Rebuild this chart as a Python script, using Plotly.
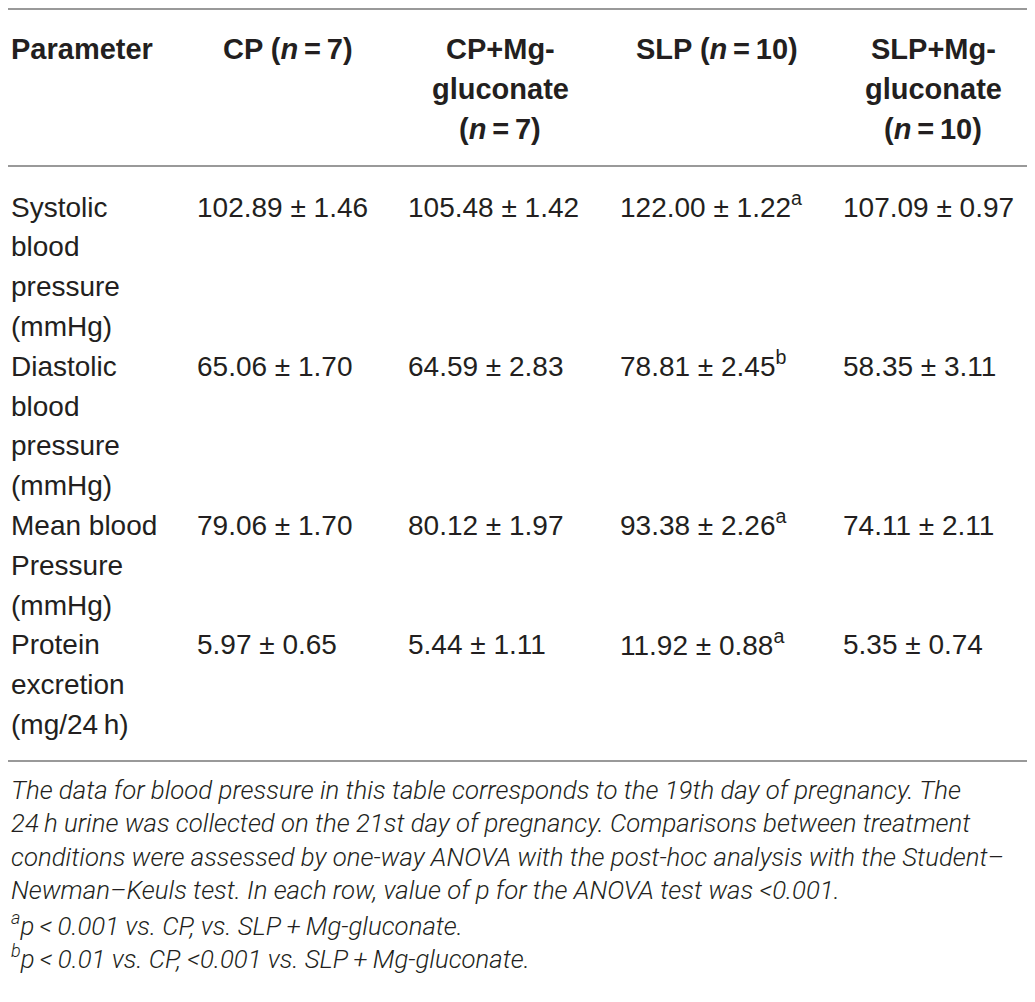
'''Table: blood pressure and protein excretion, CP / SLP with and without Mg-gluconate'''

import plotly.graph_objects as go

# %% data
params = [
    ["Systolic", "blood", "pressure", "(mmHg)"],
    ["Diastolic", "blood", "pressure", "(mmHg)"],
    ["Mean blood", "Pressure", "(mmHg)"],
    ["Protein", "excretion", "(mg/24\u2009h)"],
]
headers = [
    ["Parameter"],
    ["CP (<i>n</i>\u2009=\u20097)"],
    ["CP+Mg-", "gluconate", "(<i>n</i>\u2009=\u20097)"],
    ["SLP (<i>n</i>\u2009=\u200910)"],
    ["SLP+Mg-", "gluconate", "(<i>n</i>\u2009=\u200910)"],
]
cp_mean = [102.89, 65.06, 79.06, 5.97]
cp_sem = [1.46, 1.70, 1.70, 0.65]
cpmg_mean = [105.48, 64.59, 80.12, 5.44]
cpmg_sem = [1.42, 2.83, 1.97, 1.11]
slp_mean = [122.00, 78.81, 93.38, 11.92]
slp_sem = [1.22, 2.45, 2.26, 0.88]
slp_sup = ["a", "b", "a", "a"]
slpmg_mean = [107.09, 58.35, 74.11, 5.35]
slpmg_sem = [0.97, 3.11, 2.11, 0.74]

notes = [
    "The data for blood pressure in this table corresponds to the 19th day of pregnancy. The",
    "24\u2009h urine was collected on the 21st day of pregnancy. Comparisons between treatment",
    "conditions were assessed by one-way ANOVA with the post-hoc analysis with the Student\u2013",
    "Newman\u2013Keuls test. In each row, value of p for the ANOVA test was <0.001.",
    "<sup>a</sup>p\u2009<\u20090.001 vs. CP, vs. SLP\u2009+\u2009Mg-gluconate.",
    "<sup>b</sup>p\u2009<\u20090.01 vs. CP, <0.001 vs. SLP\u2009+\u2009Mg-gluconate.",
]

# %% layout (pixel units of the picture)
W, H = 1035, 1002
OFF = 8  # page body margin
TXT = "#231f20"
LINE = "#999999"
LEFT = OFF + 0.5
head_cx = [LEFT, 288, 500, 717, 933]
data_x = [195, 406, 618, 841]
head_y0, head_dy = 48.5, 40
row_y0, row_dy = 207, 39.8
note_y0, note_dy = 790, 33.4
rules_y = [OFF + 1, 166, 761]

fig = go.Figure()
ann = []

for i, lines in enumerate(headers):
    for k, t in enumerate(lines):
        ann.append(dict(
            x=head_cx[i], y=head_y0 + k * head_dy, text=f"<b>{t}</b>",
            xanchor="left" if i == 0 else "center", yanchor="middle",
            font=dict(size=29, color=TXT, family="Liberation Sans, Arial"),
        ))

cols = [
    (cp_mean, cp_sem, None),
    (cpmg_mean, cpmg_sem, None),
    (slp_mean, slp_sem, slp_sup),
    (slpmg_mean, slpmg_sem, None),
]
k0 = 0
for r, lines in enumerate(params):
    for k, t in enumerate(lines):
        ann.append(dict(
            x=LEFT, y=row_y0 + (k0 + k) * row_dy, text=t,
            xanchor="left", yanchor="middle",
            font=dict(size=28, color=TXT, family="Liberation Sans, Arial"),
        ))
    for c, (m, s, sup) in enumerate(cols):
        txt = f"{m[r]:.2f} \u00b1 {s[r]:.2f}"
        if sup:
            txt += f"<sup>{sup[r]}</sup>"
        ann.append(dict(
            x=data_x[c], y=row_y0 + k0 * row_dy, text=txt,
            xanchor="left", yanchor="middle", yshift=2 if sup else 0,
            font=dict(size=28, color=TXT, family="Liberation Sans, Arial"),
        ))
    k0 += len(lines)

for k, t in enumerate(notes):
    ann.append(dict(
        x=LEFT, y=note_y0 + k * note_dy, text=f"<i>{t}</i>",
        xanchor="left", yanchor="middle",
        font=dict(size=25.8, color=TXT, family="Roboto", weight=300),
    ))

for a in ann:
    a.update(xref="x", yref="y", showarrow=False)

shapes = [
    dict(type="line", xref="x", yref="y", x0=OFF, x1=W - OFF, y0=y, y1=y,
         line=dict(color=LINE, width=2))
    for y in rules_y
]

fig.update_layout(
    width=W - 2 * OFF, height=H - 2 * OFF,
    margin=dict(l=0, r=0, t=0, b=0),
    paper_bgcolor="white", plot_bgcolor="white",
    xaxis=dict(range=[OFF, W - OFF], visible=False),
    yaxis=dict(range=[H - OFF, OFF], visible=False),
    annotations=ann, shapes=shapes,
    showlegend=False,
)

fig.write_html("out.html")
